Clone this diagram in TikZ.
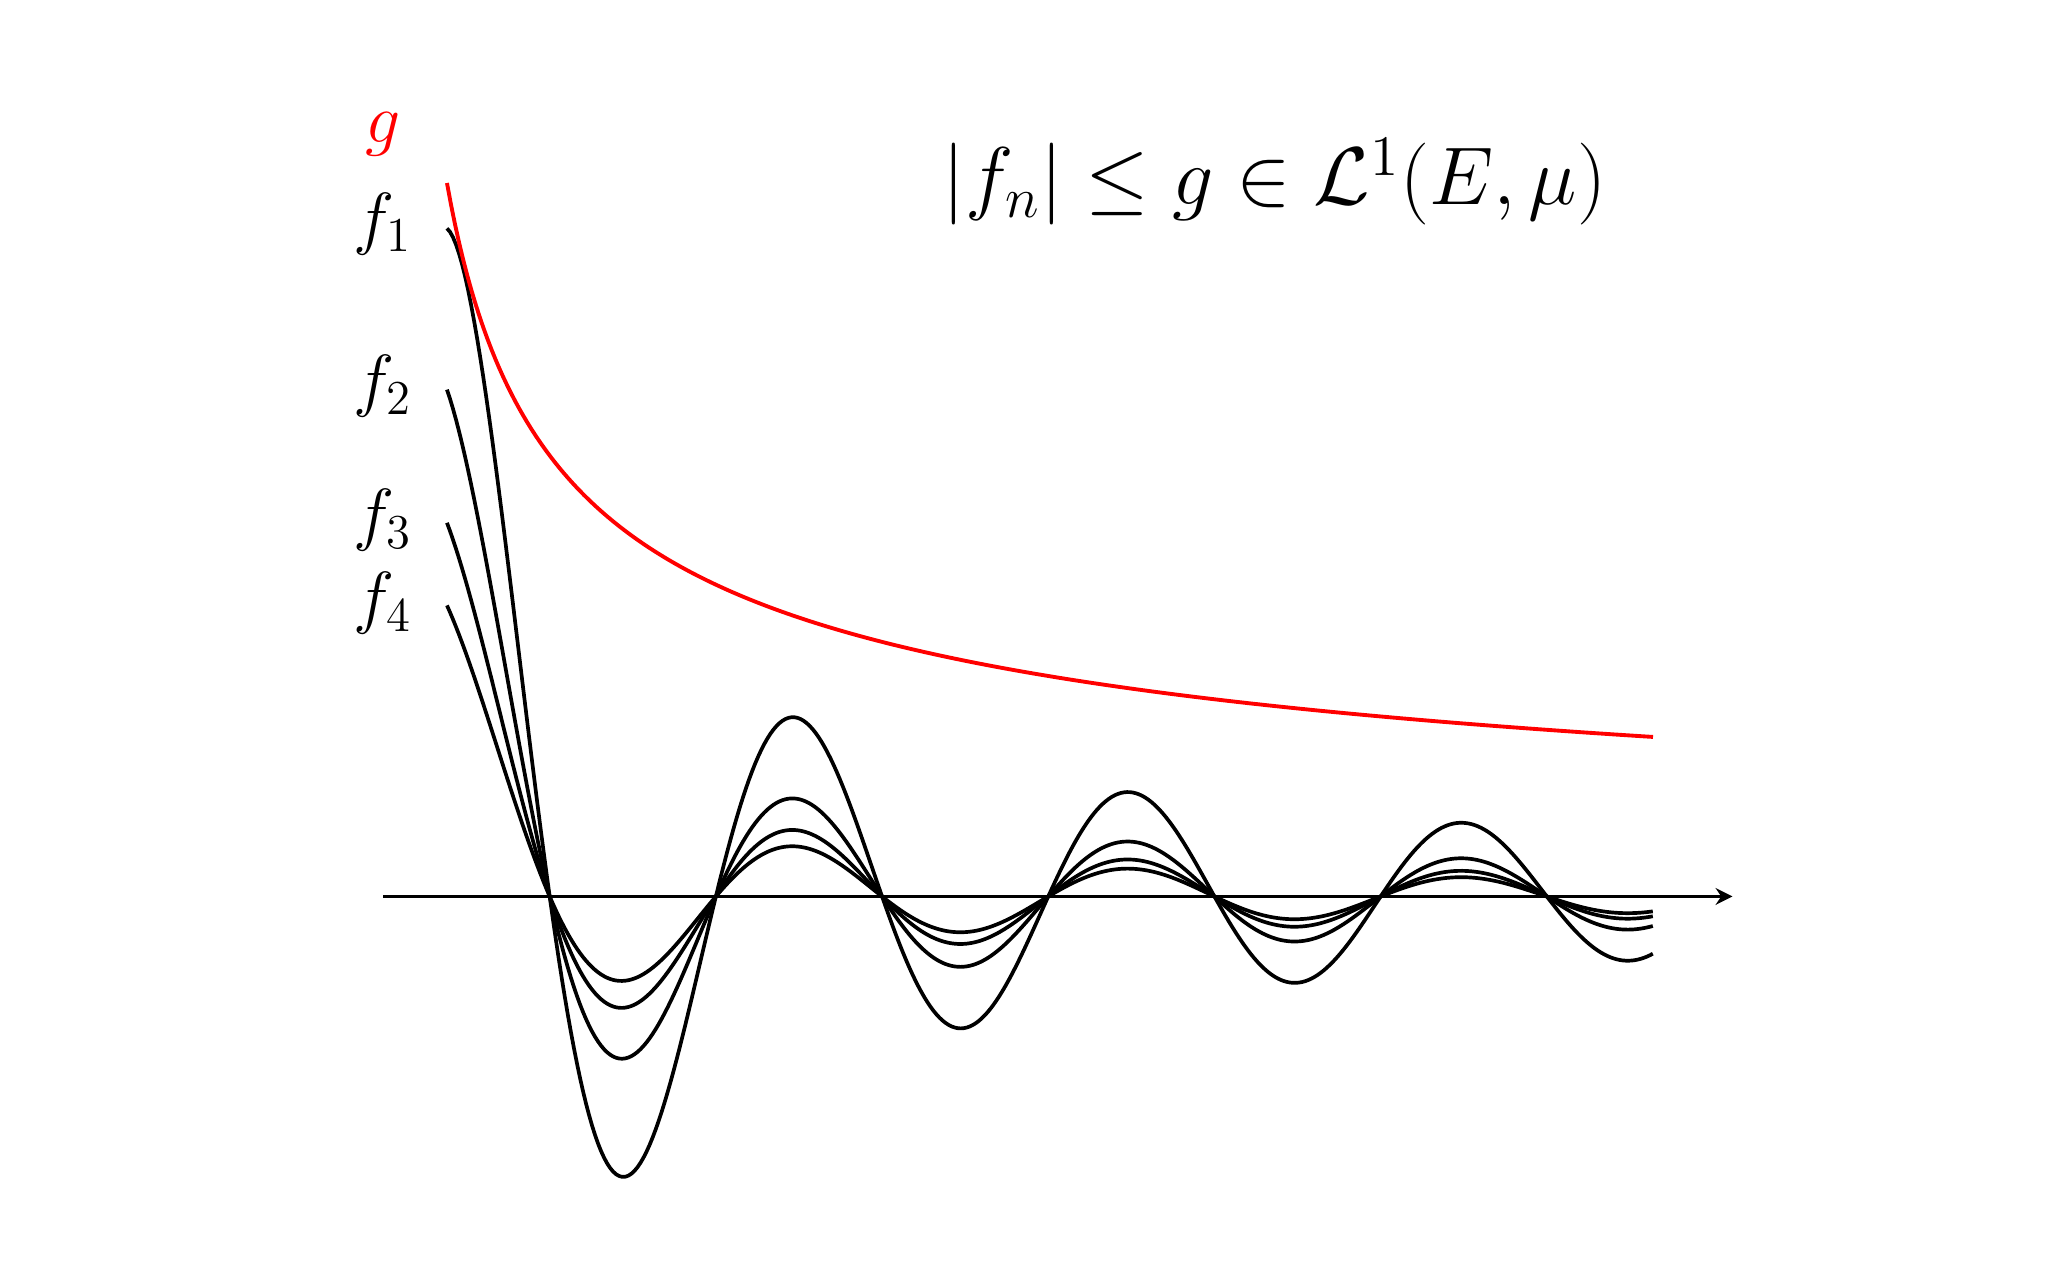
\RequirePackage{fix-cm}
\documentclass[tikz,border=0pt]{standalone}
\usetikzlibrary{arrows.meta}
\begin{document}
\begin{tikzpicture}[x=0.529cm,y=0.01cm,
  fcurve/.style={black,line width=1.05pt,line join=round},
  gcurve/.style={red,line width=1.1pt,line join=round},
  axisline/.style={black,line width=0.65pt,-{Stealth[length=4.8pt,width=4.8pt,inset=1.6pt]}},
  lbl/.style={inner sep=0pt,font=\fontsize{19.8}{22}\selectfont},
  formula/.style={inner sep=0pt,font=\fontsize{23.3}{26}\selectfont}
]
\useasboundingbox (-7.2495,-375) rectangle (31.5406,897);
% axis
\coordinate (o) at (0,0);
\coordinate (xend) at (25.5,0);
\draw[axisline] (o) -- (xend);
% f_n
\foreach \n in {1,2,3,4}{
  \draw[fcurve] plot[domain=1.2:24,samples=400] (\x,{1578*\n*sin(\x r)/(1+\n*\n*\x)});
}
% g
\draw[gcurve] plot[domain=1.2:24,samples=300] (\x,{782/sqrt(\x)});
% labels
\node[lbl,anchor=base,text=red] (lg) at (0,754) {$g$};
\node[lbl,anchor=base east] (l1) at (0.56,655.4) {$f_1$};
\node[lbl,anchor=base east] (l2) at (0.56,493) {$f_2$};
\node[lbl,anchor=base east] (l3) at (0.56,359) {$f_3$};
\node[lbl,anchor=base east] (l4) at (0.56,276) {$f_4$};
\node[formula,anchor=base west] (form) at (10.56,692) {$|f_n| \leq g \in \mathcal{L}^1(E,\mu)$};
\end{tikzpicture}
\end{document}
